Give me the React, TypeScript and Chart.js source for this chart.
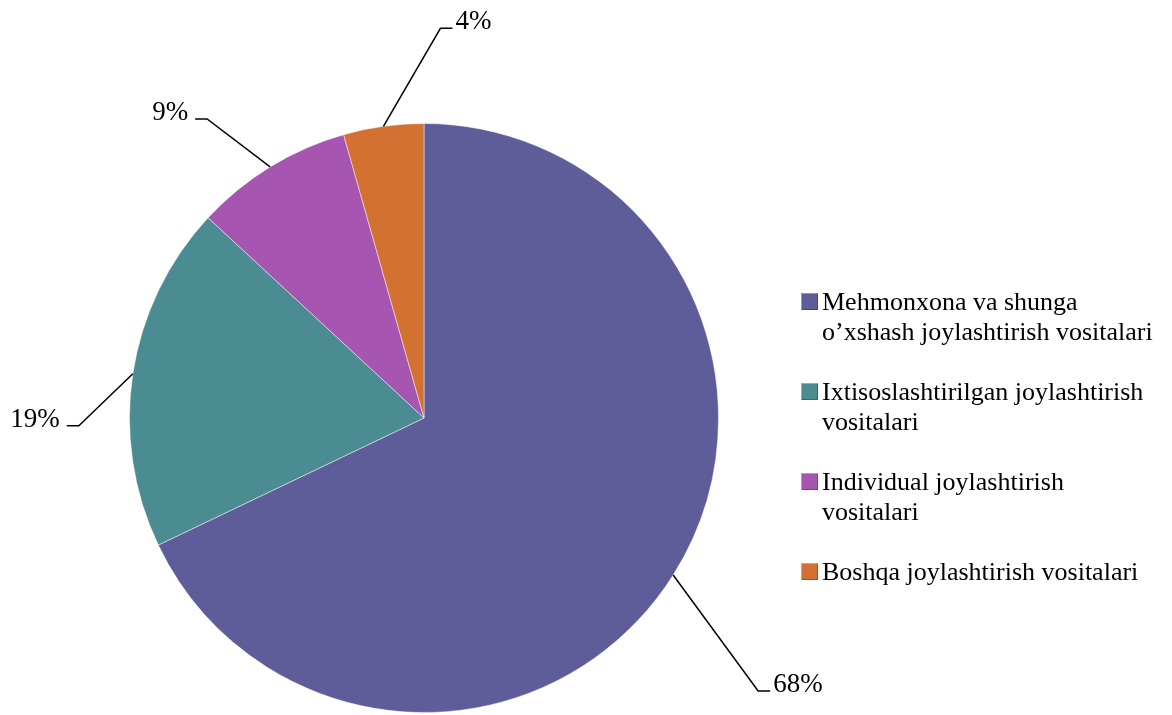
import React, { useEffect, useRef } from "react";
import { Chart, registerables } from "chart.js";

Chart.register(...registerables);

const categories: string[][] = [
  ["Mehmonxona va shunga", "o’xshash joylashtirish vositalari"],
  ["Ixtisoslashtirilgan joylashtirish", "vositalari"],
  ["Individual joylashtirish", "vositalari"],
  ["Boshqa joylashtirish vositalari"],
];
const values: number[] = [67.9, 19.0, 8.7, 4.4];
const percentLabels: string[] = ["68%", "19%", "9%", "4%"];
const colors: string[] = ["#5E5D9A", "#4A8C91", "#A656B1", "#D37132"];

// leader line geometry (style): elbow offset from arc anchor, horizontal tail direction
const leaderStyle = [
  { dx: 85, dy: 116, tail: 12 },
  { dx: -54, dy: 52, tail: -12 },
  { dx: -63, dy: -48, tail: -12 },
  { dx: 57, dy: -98, tail: 12 },
];

const labelPlugin = {
  id: "leaderLabels",
  afterDatasetsDraw(chart: any) {
    const ctx = chart.ctx;
    const meta = chart.getDatasetMeta(0);
    ctx.save();
    ctx.strokeStyle = "#000";
    ctx.lineWidth = 1.5;
    ctx.fillStyle = "#000";
    ctx.font = '27px "Liberation Serif", "Times New Roman", serif';
    ctx.textBaseline = "alphabetic";
    meta.data.forEach((arc: any, i: number) => {
      const { x, y, startAngle, endAngle, outerRadius } = arc.getProps(
        ["x", "y", "startAngle", "endAngle", "outerRadius"],
        true
      );
      const mid = (startAngle + endAngle) / 2;
      const ax = x + Math.cos(mid) * outerRadius;
      const ay = y + Math.sin(mid) * outerRadius;
      const s = leaderStyle[i];
      const ex = ax + s.dx;
      const ey = ay + s.dy;
      const tx = ex + s.tail;
      ctx.beginPath();
      ctx.moveTo(ax, ay);
      ctx.lineTo(ex, ey);
      ctx.lineTo(tx, ey);
      ctx.stroke();
      if (s.tail > 0) {
        ctx.textAlign = "left";
        ctx.fillText(percentLabels[i], tx + 3, ey + 1);
      } else {
        ctx.textAlign = "right";
        ctx.fillText(percentLabels[i], tx - 7, ey + 1);
      }
    });
    ctx.restore();
  },
};

export default function App() {
  const ref = useRef<HTMLCanvasElement | null>(null);
  useEffect(() => {
    document.body.style.margin = "0";
    const canvas = ref.current!;
    const chart = new Chart(canvas, {
      type: "pie",
      data: {
        labels: categories.map((c) => c.join(" ")),
        datasets: [
          {
            data: values,
            backgroundColor: colors,
            borderColor: "rgba(255,255,255,0.45)",
            borderWidth: 1,
          },
        ],
      },
      options: {
        animation: false,
        responsive: false,
        maintainAspectRatio: false,
        layout: { padding: { left: 129, top: 123, right: 453, bottom: 2 } },
        plugins: {
          legend: { display: false },
          tooltip: { enabled: false },
        },
      },
      plugins: [labelPlugin],
    });
    return () => chart.destroy();
  }, []);

  return (
    <div style={{ position: "relative", width: 1172, height: 715, background: "#fff" }}>
      <canvas ref={ref} width={1172} height={715} style={{ position: "absolute", left: 0, top: 0 }} />
      <div
        style={{
          position: "absolute",
          left: 801,
          top: 287,
          fontFamily: '"Liberation Serif", "Times New Roman", serif',
          fontSize: 26,
          lineHeight: "30px",
          color: "#000",
          display: "flex",
          flexDirection: "column",
          gap: 30,
          whiteSpace: "nowrap",
        }}
      >
        {categories.map((lines, i) => (
          <div key={i} style={{ display: "flex", alignItems: "flex-start" }}>
            <span
              style={{
                display: "inline-block",
                width: 17,
                height: 17,
                marginTop: 6,
                marginRight: 4,
                background: colors[i],
                boxShadow: "inset 1px 1px 0 rgba(255,255,255,0.35), inset -1px -1px 0 rgba(0,0,0,0.25)",
              }}
            />
            <div>
              {lines.map((l, j) => (
                <div key={j}>{l}</div>
              ))}
            </div>
          </div>
        ))}
      </div>
    </div>
  );
}
